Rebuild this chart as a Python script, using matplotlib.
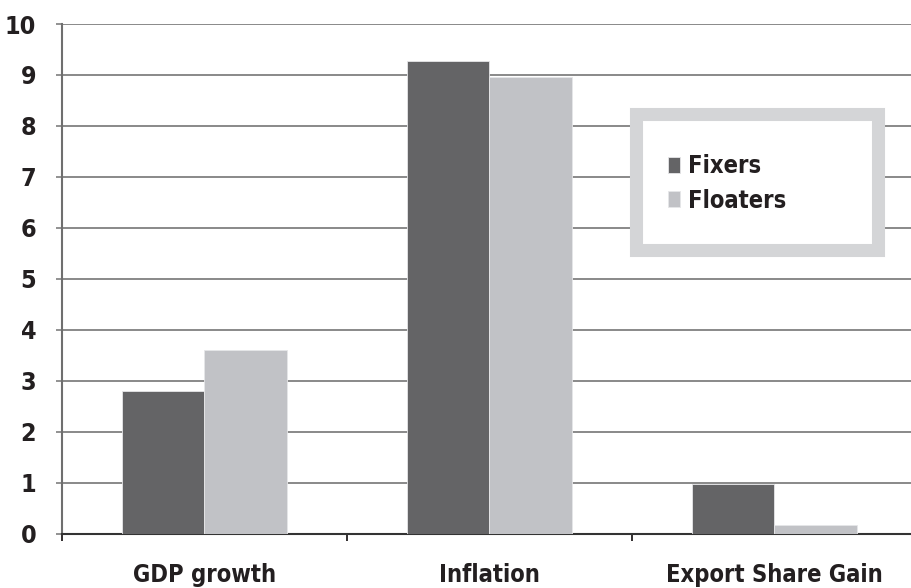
import matplotlib
matplotlib.use("Agg")
import matplotlib.pyplot as plt
from matplotlib.patches import Rectangle
from matplotlib import font_manager as fm
import numpy as np

categories = ["GDP growth", "Inflation", "Export Share Gain"]
fixers = [2.8, 9.28, 0.97]
floaters = [3.6, 8.95, 0.17]
series_names = ["Fixers", "Floaters"]
yticks = list(range(0, 11))

FAM = ['DejaVu Sans']
plt.rcParams['font.family'] = FAM
plt.rcParams['font.weight'] = 'bold'
plt.rcParams['font.stretch'] = 'condensed'

W, H = 912, 588
fig = plt.figure(figsize=(W / 100, H / 100), dpi=100)
ax = fig.add_axes([62 / W, (H - 533.5) / H, 855 / W, 509.5 / H])

x = np.arange(len(categories))
bw = 0.29
c_fix = '#646466'
c_flo = '#c1c2c6'
b1 = ax.bar(x - bw / 2, fixers, bw, color=c_fix, edgecolor='#e6e6e8', linewidth=0.6, zorder=3, label=series_names[0])
b2 = ax.bar(x + bw / 2, floaters, bw, color=c_flo, edgecolor='#e6e6e8', linewidth=0.6, zorder=3, label=series_names[1])

ax.set_xlim(-0.5, 2.5)
ax.set_ylim(0, 10)
ax.set_yticks(yticks)
ax.set_yticklabels([str(v) for v in yticks], fontsize=18, fontweight='bold', color='#231f20', fontstretch='condensed')
ax.yaxis.grid(True, color='#767676', linewidth=1.2, zorder=0)
ax.set_axisbelow(True)

ax.set_xticks(x)
ax.set_xticklabels(categories, fontsize=17, fontweight='bold', color='#231f20', fontstretch='condensed')
ax.set_xticks([-0.5, 0.5, 1.5, 2.5], minor=True)
ax.tick_params(axis='x', which='major', length=0, pad=21)
ax.tick_params(axis='x', which='minor', length=5, width=1.3, color='#231f20', direction='out')
ax.tick_params(axis='y', length=4.5, width=1.2, color='#7f7f7f', pad=14)

for s in ['top', 'right']:
    ax.spines[s].set_visible(False)
ax.spines['left'].set_color('#6f6f6f')
ax.spines['left'].set_linewidth(1.5)
ax.spines['bottom'].set_color('#333333')
ax.spines['bottom'].set_linewidth(1.5)

# legend box with thick light gray frame
rect = Rectangle((635.5 / W, 1 - 250.5 / H), (877.5 - 635.5) / W, (250.5 - 114.5) / H,
                 transform=fig.transFigure, facecolor='white', edgecolor='#d4d5d7',
                 linewidth=9.4, zorder=5)
fig.patches.append(rect)

leg = fig.legend(handles=[b1, b2], labels=series_names, loc='upper left',
                 bbox_to_anchor=(668 / W, 1 - 154 / H), frameon=False,
                 prop=fm.FontProperties(family=FAM, size=17, weight='bold', stretch='condensed'),
                 handlelength=0.5, handleheight=0.65, handletextpad=0.35,
                 labelspacing=0.45, borderpad=0, borderaxespad=0)
leg.set_zorder(6)
for t in leg.get_texts():
    t.set_color('#231f20')

fig.savefig('out.png', dpi=100)
